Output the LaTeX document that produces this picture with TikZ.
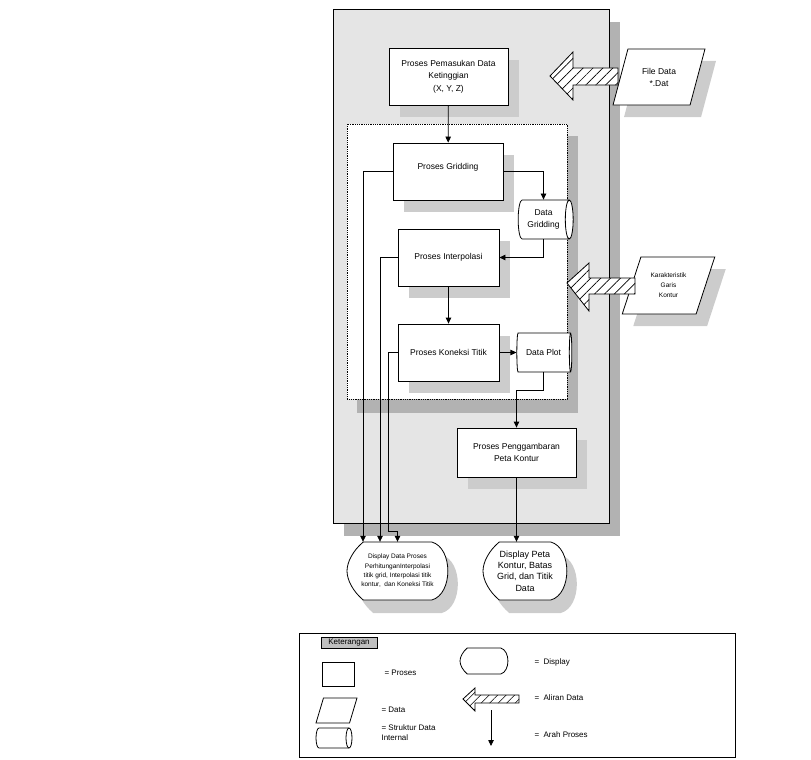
\documentclass[tikz,border=0pt]{standalone}
\usepackage{fontspec}
\setmainfont{Liberation Sans}
\usetikzlibrary{arrows.meta,shapes.geometric,shadows,patterns.meta}
\newcommand{\fs}[2]{\fontsize{#1}{#2}\selectfont}
% bentuk display: kiri, atas, kanan, bawah
\newcommand{\layar}[4]{({#1+0.28*(#4-#2)},#2) -- ({#3-0.28*(#4-#2)},#2)
  .. controls ({#3+0.09*(#4-#2)},{#2+0.1*(#4-#2)}) and ({#3+0.09*(#4-#2)},{#4-0.1*(#4-#2)}) .. ({#3-0.28*(#4-#2)},#4)
  -- ({#1+0.28*(#4-#2)},#4)
  .. controls ({#1+0.1*(#4-#2)},{#4-0.15*(#4-#2)}) and (#1,{(#2+#4)/2+0.15*(#4-#2)}) .. (#1,{(#2+#4)/2})
  .. controls (#1,{(#2+#4)/2-0.15*(#4-#2)}) and ({#1+0.1*(#4-#2)},{#2+0.15*(#4-#2)}) .. cycle}
\begin{document}
\begin{tikzpicture}[x=1pt,y=-1pt]
  \definecolor{abumuda}{gray}{0.9}
  \definecolor{abugelap}{gray}{0.7}
  \definecolor{bayang}{gray}{0.8}
  \definecolor{abulabel}{gray}{0.75}
  \tikzset{
    garis/.style={line width=.8pt},
    proses/.style={garis, draw, fill=white, align=center, font=\fs{8.5}{12.5},
      drop shadow={shadow xshift=11pt, shadow yshift=-12pt, fill=bayang, opacity=1}},
    simpan/.style={garis, draw, fill=white, cylinder, aspect=.4, align=center, inner sep=0pt, font=\fs{8.5}{12}},
    datamasuk/.style={garis, draw, fill=white, trapezium, trapezium stretches=true, align=center,
      drop shadow={shadow xshift=11pt, shadow yshift=-12pt, fill=bayang, opacity=1}},
    panah/.style={garis, -{Triangle[length=6pt,width=5.5pt]}},
    arsir/.style={garis, fill=white, postaction={pattern={Lines[angle=45,distance=7pt,line width=.7pt]}}},
    ket/.style={anchor=west, align=left, font=\fs{8}{10}}
  }
  \useasboundingbox (0,0) rectangle (811,760);

  % kotak sistem
  \fill[abugelap] (344,22) rectangle (620,536);
  \draw[garis, fill=abumuda] (333,9.5) rectangle (609,523);
  \node[proses, minimum width=119pt, minimum height=57pt] (pemasukan) at (448.5,76.5)
    {Proses Pemasukan Data\\Ketinggian\\(X, Y, Z)};
  \fill[abugelap] (357,136) rectangle (578,413);
  \draw[garis, densely dotted, fill=white] (347,124) rectangle (567,399);

  \node[proses, minimum width=110pt, minimum height=57pt, text depth=11pt] (gridding) at (448,171.5) {Proses Gridding};
  \node[proses, minimum width=101pt, minimum height=57pt] (interpolasi) at (448.5,257.5) {Proses Interpolasi};
  \node[proses, minimum width=101pt, minimum height=57pt] (koneksi) at (448.5,352.5) {Proses Koneksi Titik};
  \node[proses, minimum width=119pt, minimum height=49pt] (penggambaran) at (516.5,452.5)
    {Proses Penggambaran\\Peta Kontur};
  \node[simpan, minimum height=55pt, minimum width=39pt] (datagrid) at (543.5,219.5) {Data\\Gridding};
  \node[simpan, minimum height=55pt, minimum width=39pt] (dataplot) at (543.5,352.5) {Data Plot};

  % data masuk
  \node[datamasuk, trapezium left angle=68.6, trapezium right angle=111.4, minimum width=92pt,
    minimum height=56pt, font=\fs{8.5}{12}] (filedata) at (659,77) {File Data\\*.Dat};
  \node[datamasuk, trapezium left angle=65.5, trapezium right angle=114.5, minimum width=93pt,
    minimum height=57pt, font=\fs{6.5}{10}] (karakter) at (668.5,285.5) {Karakteristik\\Garis\\Kontur};
  \draw[arsir] (550,76) -- (573,52) -- (573,68) -- (618,68) -- (618,85) -- (573,85) -- (573,100) -- cycle;
  \draw[arsir] (567,283) -- (589,263) -- (589,278) -- (635,278) -- (635,294) -- (589,294) -- (589,311) -- cycle;

  % display
  \fill[bayang, xshift=10pt, yshift=-13pt] \layar{347}{542}{448}{600};
  \draw[garis, fill=white] \layar{347}{542}{448}{600};
  \fill[bayang, xshift=10pt, yshift=-13pt] \layar{483}{542}{567}{600};
  \draw[garis, fill=white] \layar{483}{542}{567}{600};
  \node[align=center, minimum width=101pt, minimum height=58pt, font=\fs{6.5}{9.3}] (disp1) at (397.5,571)
    {Display Data Proses\\PerhitunganInterpolasi\\titik grid, Interpolasi titik\\kontur,~ dan Koneksi Titik};
  \node[align=center, minimum width=84pt, minimum height=58pt, font=\fs{9}{11.3}] (disp2) at (525,571)
    {Display Peta\\Kontur, Batas\\Grid, dan Titik\\Data};

  % alur proses
  \draw[panah] (pemasukan) -- (gridding);
  \draw[panah] (gridding.east) -| (datagrid.north);
  \draw[panah] (datagrid.south) |- (interpolasi.east);
  \draw[panah] (interpolasi) -- (koneksi);
  \draw[panah] (koneksi) -- (dataplot);
  \draw[panah] (dataplot.south) -- ++(0,18) -| (penggambaran.north);
  \draw[panah] (penggambaran.south) -- (penggambaran.south |- disp2.north);
  \draw[panah] (gridding.west) -| ([xshift=-34.5pt]disp1.north);
  \draw[panah] (interpolasi.west) -| ([xshift=-17.5pt]disp1.north);
  \coordinate (belok) at (388,531);
  \draw[panah] (koneksi.west) -| (belok) -| (disp1.north);

  % keterangan
  \draw[garis] (299,633) rectangle (735,757);
  \node[draw, fill=abulabel, minimum width=56pt, minimum height=11pt, inner sep=0pt, font=\fs{8}{9}] (judulket)
    at (349,642.5) {Keterangan};
  \node[garis, draw, minimum width=32pt, minimum height=24pt] (lproses) at (338,674) {};
  \node[ket] (tproses) at (381,673) {= Proses};
  \node[garis, draw, trapezium, trapezium stretches=true, trapezium left angle=74, trapezium right angle=106,
    minimum width=41pt, minimum height=25pt] (ldata) at (336.5,710.5) {};
  \node[ket] (tdata) at (378,710) {= Data};
  \draw[garis] (349,728) -- (319,728) arc[start angle=90, end angle=270, x radius=3pt, y radius=10pt] -- (349,748);
  \draw[garis] (349,738) ellipse[x radius=3pt, y radius=10pt];
  \node[ket] (tsimpan) at (378,733) {= Struktur Data\\Internal};
  \draw[garis] \layar{460}{648}{508}{674};
  \node[ket] (tdisplay) at (531,662) {=~ Display};
  \draw[garis, fill=white, postaction={pattern={Lines[angle=45,distance=6pt,line width=.6pt]}}]
    (463,699) -- (475,688) -- (475,695) -- (519,695) -- (519,703) -- (475,703) -- (475,711) -- cycle;
  \node[ket] (taliran) at (531,698) {=~ Aliran Data};
  \coordinate (a1) at (491,710);
  \coordinate (a2) at (491,746);
  \draw[panah] (a1) -- (a2);
  \node[ket] (tarah) at (531,735) {=~ Arah Proses};
\end{tikzpicture}
\end{document}
